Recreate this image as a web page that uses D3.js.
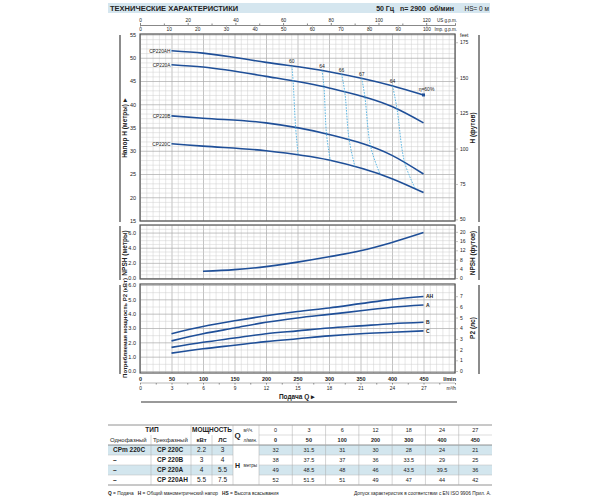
<!DOCTYPE html>
<html>
<head>
<meta charset="utf-8">
<script src="https://cdn.jsdelivr.net/npm/d3@7"></script>
<style>
body { margin: 0; background: #fff; }
text { font-family: "Liberation Sans", Arial, sans-serif; fill: #222; }
.grid line { stroke: #cfcfcf; stroke-width: 0.5; }
.grid .major line { stroke: #a9a9a9; stroke-width: 0.7; }
.grid path { display: none; }
.lab path, .lab line { display: none; }
</style>
</head>
<body>
<div id="chart"></div>
<script>
var qFlow = [0, 50, 100, 200, 300, 400, 450];      // л/мин
var qM3h  = [0, 3, 6, 12, 18, 24, 27];             // м3/ч
var headC  = [32, 31.5, 31, 30, 28, 24, 21];
var headB  = [38, 37.5, 37, 36, 33.5, 29, 25];
var headA  = [49, 48.5, 48, 46, 43.5, 39.5, 36];
var headAH = [52, 51.5, 51, 49, 47, 44, 42];
var curveNames = ["CP220AH", "CP220A", "CP220B", "CP220C"];

var npshQ = [100, 150, 200, 250, 300, 350, 400, 450];
var npshM = [0.9, 1.1, 1.5, 2.1, 2.8, 3.6, 4.7, 6.0];

var powerQ  = [50, 100, 150, 200, 250, 300, 350, 400, 450];
var powerAH = [2.6, 3.1, 3.5, 3.85, 4.15, 4.4, 4.7, 5.0, 5.2];
var powerA  = [2.1, 2.6, 3.0, 3.4, 3.7, 3.95, 4.2, 4.45, 4.6];
var powerB  = [1.65, 2.0, 2.3, 2.6, 2.8, 3.0, 3.15, 3.3, 3.4];
var powerC  = [1.25, 1.55, 1.8, 2.05, 2.25, 2.45, 2.6, 2.7, 2.8];
var powerNames = ["AH", "A", "B", "C"];

// iso-efficiency lines: flow where each line crosses AH, A, B, C
var effLabels = ["60", "64", "66", "67", "64"];
var effQ_AH = [241, 289, 320, 352, 401];
var effQ_A  = [243, 292, 325, 357, 408];
var effQ_B  = [247, 296, 332, 366, 420];
var effQ_C  = [251, 302, 341, 381, 437];

// table
var singlePhase = ["CPm 220C", "–", "–", "–"];
var threePhase  = ["CP 220C", "CP 220B", "CP 220A", "CP 220AH"];
var powerKw = ["2.2", "3", "4", "5.5"];
var powerHp = ["3", "4", "5.5", "7.5"];

var blue = "#1f4f98";

var svg = d3.select("#chart").append("svg")
    .attr("width", 600)
    .attr("height", 500);

// ---- header ----
svg.append("rect").attr("x", 108).attr("y", 3).attr("width", 382).attr("height", 10).attr("fill", "#d5e6ef");
svg.append("text").attr("x", 110).attr("y", 11).style("font-size", "7.5px").style("font-weight", "bold")
  .text("ТЕХНИЧЕСКИЕ ХАРАКТЕРИСТИКИ");
svg.append("text").attr("x", 454).attr("y", 11).attr("text-anchor", "end").style("font-size", "7px").style("font-weight", "bold")
  .attr("xml:space", "preserve").text("50 Гц   n= 2900  об/мин");
svg.append("text").attr("x", 489).attr("y", 11).attr("text-anchor", "end").style("font-size", "6.5px")
  .text("HS= 0 м");

// ---- scales ----
var x = d3.scaleLinear().domain([0, 500]).range([140, 455]);
var xUS = d3.scaleLinear().domain([0, 500 * 0.264172]).range([140, 455]);
var xImp = d3.scaleLinear().domain([0, 500 * 0.219969]).range([140, 455]);
var xM3 = d3.scaleLinear().domain([0, 30]).range([140, 455]);

var yH = d3.scaleLinear().domain([15, 55]).range([220.5, 34.5]);
var yHft = d3.scaleLinear().domain([15 * 3.28084, 55 * 3.28084]).range([220.5, 34.5]);
var yN = d3.scaleLinear().domain([0, 7]).range([278, 225]);
var yNft = d3.scaleLinear().domain([0, 7 * 3.28084]).range([278, 225]);
var yP = d3.scaleLinear().domain([0, 6]).range([371, 285]);
var yPhp = d3.scaleLinear().domain([0, 6 / 0.7457]).range([371, 285]);

var panels = [
  {y: yH, top: 34, bottom: 221, hStep: 1, hMajor: 5},
  {y: yN, top: 225, bottom: 279, hStep: 0.5, hMajor: 2},
  {y: yP, top: 284, bottom: 373, hStep: 0.5, hMajor: 1}
];

// ---- grids and frames ----
panels.forEach(function(p) {
  var yLo = p.y.invert(p.bottom), yHi = p.y.invert(p.top);
  var hv = d3.range(Math.ceil(yLo / p.hStep) * p.hStep, yHi + 1e-6, p.hStep);

  svg.append("g").attr("class", "grid")
    .attr("transform", "translate(0," + p.bottom + ")")
    .call(d3.axisBottom(x).tickValues(d3.range(0, 501, 10)).tickSize(-(p.bottom - p.top)).tickFormat(""))
    .selectAll(".tick").classed("major", function(d) { return d % 50 === 0; });

  svg.append("g").attr("class", "grid")
    .attr("transform", "translate(140,0)")
    .call(d3.axisLeft(p.y).tickValues(hv).tickSize(-315).tickFormat(""))
    .selectAll(".tick").classed("major", function(d) { return Math.abs(d / p.hMajor - Math.round(d / p.hMajor)) < 1e-6; });

  svg.append("rect").attr("x", 140).attr("y", p.top).attr("width", 315).attr("height", p.bottom - p.top)
    .attr("fill", "none").attr("stroke", "#555").attr("stroke-width", 1.2);

  // side bars
  svg.append("line").attr("x1", 120).attr("x2", 120).attr("y1", p.top + 1).attr("y2", p.bottom + 1)
    .attr("stroke", "#666").attr("stroke-width", 1.5);
  svg.append("line").attr("x1", 479).attr("x2", 479).attr("y1", p.top + 1).attr("y2", p.bottom + 1)
    .attr("stroke", "#666").attr("stroke-width", 1.5);
});

// ---- left / right tick labels ----
function leftLabels(scale, vals) {
  var g = svg.append("g").attr("class", "lab").attr("transform", "translate(140,0)")
    .call(d3.axisLeft(scale).tickValues(vals).tickSize(0).tickPadding(4));
  g.selectAll("text").style("font-size", "5.5px").style("font-family", "Liberation Sans, Arial, sans-serif").attr("fill", "#333");
}
function rightLabels(scale, vals) {
  var g = svg.append("g").attr("transform", "translate(455,0)")
    .call(d3.axisRight(scale).tickValues(vals).tickSize(3).tickPadding(2));
  g.select(".domain").remove();
  g.selectAll("line").attr("stroke", "#888").attr("stroke-width", 0.5);
  g.selectAll("text").style("font-size", "5px").style("font-family", "Liberation Sans, Arial, sans-serif").attr("fill", "#444");
}
leftLabels(yH, [15, 20, 25, 30, 35, 40, 45, 50, 55]);
rightLabels(yHft, [50, 75, 100, 125, 150, 175]);
leftLabels(yN, [0, 2, 4, 6]);
rightLabels(yNft, [0, 4, 8, 12, 16, 20]);
leftLabels(yP, [0, 1, 2, 3, 4, 5, 6]);
rightLabels(yPhp, [0, 1, 2, 3, 4, 5, 6, 7]);

svg.append("text").attr("x", 460).attr("y", 37).style("font-size", "5px").attr("fill", "#444").text("feet");

// ---- top axes (g.p.m.) ----
var gUS = svg.append("g").attr("transform", "translate(0,25)")
  .call(d3.axisTop(xUS).tickValues(d3.range(0, 121, 20)).tickSize(2).tickPadding(1.5));
gUS.select(".domain").attr("stroke", "#888").attr("stroke-width", 0.6);
gUS.selectAll("line").attr("stroke", "#888");
gUS.selectAll("text").style("font-size", "4.8px").style("font-family", "Liberation Sans, Arial, sans-serif").attr("fill", "#444");
svg.append("g").attr("transform", "translate(0,25)")
  .call(d3.axisTop(xUS).tickValues(d3.range(10, 121, 20)).tickSize(1.5).tickFormat(""))
  .selectAll("line,path").attr("stroke", "#888");

var gImp = svg.append("g").attr("transform", "translate(0,25)")
  .call(d3.axisBottom(xImp).tickValues(d3.range(0, 101, 10)).tickSize(1.5).tickPadding(1));
gImp.select(".domain").remove();
gImp.selectAll("line").attr("stroke", "#888");
gImp.selectAll("text").style("font-size", "4.8px").style("font-family", "Liberation Sans, Arial, sans-serif").attr("fill", "#444");

svg.append("text").attr("x", 457).attr("y", 22).attr("text-anchor", "end").style("font-size", "4.5px").attr("fill", "#444").text("US g.p.m.");
svg.append("text").attr("x", 457).attr("y", 30.5).attr("text-anchor", "end").style("font-size", "4.5px").attr("fill", "#444").text("Imp. g.p.m.");

// ---- head curves ----
var headSeries = [headAH, headA, headB, headC];
var lineH = d3.line().curve(d3.curveMonotoneX)
  .x(function(d) { return x(d[0]); })
  .y(function(d) { return yH(d[1]); });

var headPaths = headSeries.map(function(h, i) {
  var pts = qFlow.map(function(q, j) { return [q, h[j]]; }).filter(function(d) { return d[0] >= 50; });
  var p = svg.append("path").datum(pts)
    .attr("d", lineH).attr("fill", "none").attr("stroke", blue).attr("stroke-width", 1.6);
  svg.append("text").attr("x", x(50) - 1).attr("y", yH(pts[0][1]) + 1.8).attr("text-anchor", "end")
    .style("font-size", "4.8px").attr("fill", "#333").text(curveNames[i]);
  return p.node();
});

// find y on a drawn path at a given x pixel
function yOnPath(node, px) {
  var len = node.getTotalLength(), lo = 0, hi = len;
  for (var k = 0; k < 30; k++) {
    var mid = (lo + hi) / 2;
    if (node.getPointAtLength(mid).x < px) lo = mid; else hi = mid;
  }
  return node.getPointAtLength(lo).y;
}

// iso-efficiency lines
var effSets = [effQ_AH, effQ_A, effQ_B, effQ_C];
var isoLine = d3.line().curve(d3.curveCatmullRom);
effLabels.forEach(function(lbl, i) {
  var pts = effSets.map(function(arr, c) {
    var px = x(arr[i]);
    return [px, yOnPath(headPaths[c], px)];
  });
  svg.append("path").datum(pts).attr("d", isoLine)
    .attr("fill", "none").attr("stroke", "#4fb0e0").attr("stroke-width", 0.9).attr("stroke-dasharray", "1.6,1.2");
  svg.append("text").attr("x", pts[0][0]).attr("y", pts[0][1] - 2.5).attr("text-anchor", "middle")
    .style("font-size", "5px").attr("fill", "#333").text(lbl);
});

// end marker on AH
svg.append("rect").attr("x", x(450) - 1.5).attr("y", yH(headAH[6]) - 1.5).attr("width", 3).attr("height", 3).attr("fill", blue);
svg.append("text").attr("x", x(450) + 3).attr("y", yH(headAH[6]) - 3.5).attr("text-anchor", "middle")
  .style("font-size", "5px").attr("fill", "#333").text("η=60%");

// ---- NPSH ----
var lineN = d3.line().curve(d3.curveMonotoneX)
  .x(function(d) { return x(d[0]); })
  .y(function(d) { return yN(d[1]); });
svg.append("path").datum(npshQ.map(function(q, j) { return [q, npshM[j]]; }))
  .attr("d", lineN).attr("fill", "none").attr("stroke", blue).attr("stroke-width", 1.6);

// ---- power ----
var lineP = d3.line().curve(d3.curveMonotoneX)
  .x(function(d) { return x(d[0]); })
  .y(function(d) { return yP(d[1]); });
[powerAH, powerA, powerB, powerC].forEach(function(s, i) {
  var pts = powerQ.map(function(q, j) { return [q, s[j]]; });
  svg.append("path").datum(pts).attr("d", lineP).attr("fill", "none").attr("stroke", blue).attr("stroke-width", 1.6);
  svg.append("text").attr("x", x(450) + 2.5).attr("y", yP(s[s.length - 1]) + 1.8)
    .style("font-size", "5px").style("font-weight", "bold").attr("fill", "#333").text(powerNames[i]);
});

// ---- bottom flow axes ----
var gL = svg.append("g").attr("transform", "translate(0,383)")
  .call(d3.axisTop(x).tickValues(d3.range(0, 451, 50)).tickSize(0).tickPadding(2));
gL.select(".domain").remove();
gL.selectAll("text").style("font-size", "5.5px").style("font-weight", "bold").style("font-family", "Liberation Sans, Arial, sans-serif").attr("fill", "#333");
var gT = svg.append("g").attr("transform", "translate(0,383)")
  .call(d3.axisBottom(x).tickValues(d3.range(0, 501, 25)).tickSize(1.5).tickFormat(""));
gT.select(".domain").attr("stroke", "#888").attr("stroke-width", 0.6).attr("d", "M140,0H455");
gT.selectAll("line").attr("stroke", "#888");
var gM = svg.append("g").attr("transform", "translate(0,383)")
  .call(d3.axisBottom(xM3).tickValues([0, 3, 6, 9, 12, 15, 18, 21, 24, 27]).tickSize(0).tickPadding(4));
gM.select(".domain").remove();
gM.selectAll("text").style("font-size", "4.8px").style("font-family", "Liberation Sans, Arial, sans-serif").attr("fill", "#444");

svg.append("text").attr("x", 456).attr("y", 381).attr("text-anchor", "end").style("font-size", "5.5px").style("font-weight", "bold").attr("fill", "#333").text("l/min");
svg.append("text").attr("x", 456).attr("y", 390).attr("text-anchor", "end").style("font-size", "4.8px").attr("fill", "#444").text("m³/h");

svg.append("text").attr("x", 297).attr("y", 399).attr("text-anchor", "middle").style("font-size", "6.5px").style("font-weight", "bold")
  .text("Подача Q ▸");
svg.append("line").attr("x1", 141).attr("x2", 457).attr("y1", 402).attr("y2", 402).attr("stroke", "#999").attr("stroke-width", 1.8);

// ---- axis titles ----
function vTitle(cx, cy, txt, size) {
  svg.append("text").attr("transform", "translate(" + cx + "," + cy + ") rotate(-90)")
    .attr("text-anchor", "middle").style("font-size", size + "px").style("font-weight", "bold").text(txt);
}
vTitle(127, 128, "Напор H (метры) ▸", 6.5);
vTitle(475, 128, "H (футов)", 6.5);
vTitle(127, 253, "NPSH (метры)", 6.5);
vTitle(475, 253, "NPSH (футов)", 6.5);
vTitle(127, 328, "Потребляемая мощность P2 (кВт)", 6);
vTitle(475, 328, "P2 (лс)", 6.5);

// ---- table ----
var tTop = 425, rowH = 10;
var colV = d3.scaleBand().domain(qFlow.map(String)).range([259, 492]);
var bodyY = function(i) { return tTop + 2 * rowH + i * rowH; };

[0, 2].forEach(function(i) {
  svg.append("rect").attr("x", 108).attr("y", bodyY(i)).attr("width", 233 - 108).attr("height", rowH).attr("fill", "#d3e6ee");
  svg.append("rect").attr("x", 259).attr("y", bodyY(i)).attr("width", 492 - 259).attr("height", rowH).attr("fill", "#d3e6ee");
});

// horizontal rules
[tTop, tTop + 2 * rowH, tTop + 6 * rowH].forEach(function(yy) {
  svg.append("line").attr("x1", 108).attr("x2", 492).attr("y1", yy).attr("y2", yy).attr("stroke", "#777").attr("stroke-width", 0.8);
});
[1, 2, 3].forEach(function(i) {
  svg.append("line").attr("x1", 108).attr("x2", 233).attr("y1", bodyY(i)).attr("y2", bodyY(i)).attr("stroke", "#bbb").attr("stroke-width", 0.5);
  svg.append("line").attr("x1", 259).attr("x2", 492).attr("y1", bodyY(i)).attr("y2", bodyY(i)).attr("stroke", "#bbb").attr("stroke-width", 0.5);
});
svg.append("line").attr("x1", 259).attr("x2", 492).attr("y1", tTop + rowH).attr("y2", tTop + rowH).attr("stroke", "#bbb").attr("stroke-width", 0.5);

// vertical rules
function vRule(xx, y1, y2) {
  svg.append("line").attr("x1", xx).attr("x2", xx).attr("y1", y1).attr("y2", y2).attr("stroke", "#aaa").attr("stroke-width", 0.5);
}
vRule(151, tTop + rowH, tTop + 6 * rowH);
vRule(191, tTop, tTop + 6 * rowH);
vRule(212, tTop + rowH, tTop + 6 * rowH);
vRule(233, tTop, tTop + 6 * rowH);
colV.domain().forEach(function(d) { vRule(colV(d), tTop, tTop + 6 * rowH); });

function tText(xx, yy, txt, opts) {
  opts = opts || {};
  svg.append("text").attr("x", xx).attr("y", yy)
    .attr("text-anchor", opts.anchor || "middle")
    .style("font-size", (opts.size || 6) + "px")
    .style("font-weight", opts.bold ? "bold" : "normal")
    .attr("fill", opts.color || "#222")
    .text(txt);
}

tText(152, tTop + 7, "ТИП", {bold: true, size: 6.5});
tText(212, tTop + 7, "МОЩНОСТЬ", {bold: true, size: 6.5});
tText(110, tTop + 17, "Однофазный", {anchor: "start", size: 6});
tText(153, tTop + 17, "Трехфазный", {anchor: "start", size: 6});
tText(201.5, tTop + 17, "кВт", {bold: true, size: 6});
tText(222.5, tTop + 17, "ЛС", {bold: true, size: 6});
tText(237.5, tTop + 13, "Q", {bold: true, size: 8});
tText(243.5, tTop + 7, "м³/ч.", {anchor: "start", size: 4.6, color: "#444"});
tText(243.5, tTop + 17, "л/мин.", {anchor: "start", size: 4.6, color: "#444"});
tText(237.5, bodyY(2) + 3, "H", {bold: true, size: 7});
tText(243.5, bodyY(2) + 2, "метры", {anchor: "start", size: 4.6, color: "#444"});

qFlow.forEach(function(q, j) {
  var cx = colV(String(q)) + colV.bandwidth() / 2;
  tText(cx, tTop + 7, String(qM3h[j]), {size: 5.5});
  tText(cx, tTop + 17, String(q), {size: 5.5, bold: true});
});

var headRows = [headC, headB, headA, headAH];
headRows.forEach(function(row, i) {
  var yy = bodyY(i) + 7;
  tText(113, yy, singlePhase[i], {anchor: "start", bold: true, size: 6.5});
  tText(157, yy, threePhase[i], {anchor: "start", bold: true, size: 6.5});
  tText(201.5, yy, powerKw[i], {size: 6.5});
  tText(222.5, yy, powerHp[i], {size: 6.5});
  row.forEach(function(v, j) {
    tText(colV(String(qFlow[j])) + colV.bandwidth() / 2, yy, String(v), {size: 5.5});
  });
});

// ---- footer ----
var foot = svg.append("text").attr("x", 108).attr("y", 495).style("font-size", "4.8px").attr("fill", "#333").attr("xml:space", "preserve");
foot.append("tspan").style("font-weight", "bold").text("Q");
foot.append("tspan").text(" = Подача   ");
foot.append("tspan").style("font-weight", "bold").text("H");
foot.append("tspan").text(" = Общий манометрический напор   ");
foot.append("tspan").style("font-weight", "bold").text("HS");
foot.append("tspan").text(" = Высота всасывания");
svg.append("text").attr("x", 491).attr("y", 495).attr("text-anchor", "end").style("font-size", "4.8px").attr("fill", "#333")
  .text("Допуск характеристик в соответствии с EN ISO 9906 Прил. А.");
</script>
</body>
</html>
